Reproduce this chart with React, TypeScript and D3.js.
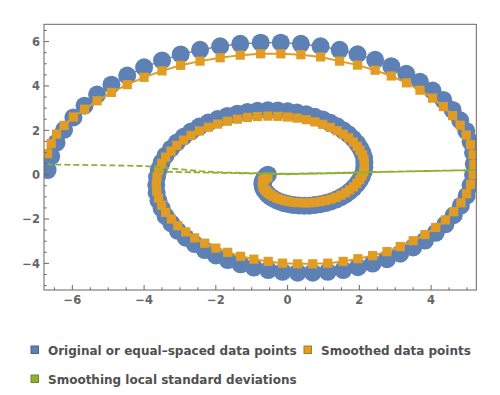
import * as d3 from 'd3';

// spiral points (x shared by original and smoothed)
const pointX = [
  -0.55, -0.59, -0.63, -0.66, -0.68, -0.7, -0.7, -0.69, -0.67, -0.64,
  -0.59, -0.54, -0.47, -0.39, -0.3, -0.19, -0.08, 0.04, 0.17, 0.31,
  0.46, 0.6, 0.75, 0.91, 1.06, 1.21, 1.35, 1.49, 1.62, 1.73,
  1.84, 1.93, 2.01, 2.07, 2.12, 2.14, 2.14, 2.13, 2.09, 2.02,
  1.94, 1.83, 1.7, 1.55, 1.38, 1.19, 0.98, 0.76, 0.52, 0.26,
  0, -0.27, -0.55, -0.84, -1.12, -1.4, -1.68, -1.95, -2.21, -2.46,
  -2.69, -2.9, -3.09, -3.25, -3.4, -3.51, -3.59, -3.64, -3.66, -3.65,
  -3.6, -3.51, -3.4, -3.24, -3.06, -2.84, -2.59, -2.31, -2.0, -1.67,
  -1.31, -0.94, -0.54, -0.14, 0.28, 0.7, 1.12, 1.55, 1.96, 2.37,
  2.77, 3.14, 3.5, 3.83, 4.13, 4.4, 4.63, 4.83, 4.99, 5.1,
  5.17, 5.19, 5.17, 5.1, 4.98, 4.81, 4.6, 4.34, 4.04, 3.69,
  3.31, 2.89, 2.44, 1.95, 1.45, 0.92, 0.37, -0.19, -0.75, -1.32,
  -1.88, -2.44, -2.98, -3.5, -4.0, -4.47, -4.91, -5.31, -5.66, -5.97,
  -6.23, -6.44, -6.59, -6.69,
];

const originalY = [
  0, -0.06, -0.12, -0.19, -0.27, -0.35, -0.44, -0.54, -0.63, -0.72,
  -0.82, -0.91, -1.0, -1.08, -1.16, -1.23, -1.29, -1.33, -1.37, -1.39,
  -1.4, -1.4, -1.37, -1.33, -1.28, -1.21, -1.12, -1.01, -0.89, -0.75,
  -0.6, -0.43, -0.25, -0.07, 0.13, 0.34, 0.55, 0.77, 0.98, 1.2,
  1.41, 1.62, 1.82, 2.0, 2.18, 2.34, 2.49, 2.61, 2.72, 2.8,
  2.86, 2.89, 2.9, 2.88, 2.83, 2.75, 2.65, 2.51, 2.35, 2.17,
  1.95, 1.71, 1.45, 1.17, 0.87, 0.56, 0.23, -0.11, -0.46, -0.81,
  -1.17, -1.52, -1.87, -2.2, -2.53, -2.84, -3.13, -3.4, -3.64, -3.85,
  -4.04, -4.19, -4.3, -4.38, -4.42, -4.42, -4.38, -4.3, -4.17, -4.01,
  -3.81, -3.56, -3.28, -2.97, -2.62, -2.24, -1.83, -1.4, -0.95, -0.48,
  0, 0.49, 0.99, 1.48, 1.97, 2.45, 2.92, 3.37, 3.79, 4.19,
  4.55, 4.89, 5.18, 5.43, 5.63, 5.79, 5.9, 5.95, 5.95, 5.9,
  5.79, 5.63, 5.42, 5.15, 4.84, 4.47, 4.06, 3.61, 3.11, 2.58,
  2.02, 1.44, 0.83, 0.21,
];

const smoothedY = [
  -0.12, -0.14, -0.17, -0.21, -0.25, -0.32, -0.4, -0.49, -0.57, -0.66,
  -0.75, -0.83, -0.91, -0.98, -1.06, -1.12, -1.17, -1.21, -1.25, -1.26,
  -1.27, -1.27, -1.25, -1.21, -1.16, -1.1, -1.02, -0.92, -0.81, -0.68,
  -0.55, -0.39, -0.23, -0.06, 0.12, 0.31, 0.5, 0.7, 0.89, 1.09,
  1.28, 1.47, 1.66, 1.82, 1.98, 2.13, 2.27, 2.38, 2.48, 2.55,
  2.6, 2.63, 2.64, 2.62, 2.58, 2.5, 2.41, 2.28, 2.14, 1.97,
  1.77, 1.56, 1.32, 1.06, 0.79, 0.51, 0.21, -0.1, -0.42, -0.74,
  -1.06, -1.38, -1.7, -2.0, -2.3, -2.58, -2.85, -3.09, -3.31, -3.5,
  -3.68, -3.81, -3.91, -3.99, -4.02, -4.02, -3.99, -3.91, -3.79, -3.65,
  -3.47, -3.24, -2.98, -2.7, -2.38, -2.04, -1.67, -1.27, -0.86, -0.44,
  0, 0.45, 0.9, 1.35, 1.79, 2.23, 2.66, 3.07, 3.45, 3.81,
  4.14, 4.45, 4.71, 4.94, 5.12, 5.31, 5.41, 5.45, 5.45, 5.39,
  5.27, 5.12, 4.93, 4.68, 4.39, 4.06, 3.71, 3.33, 2.95, 2.6,
  2.22, 1.83, 1.4, 0.95,
];

// local standard deviations plotted against x (turning points of the zigzag)
const sdX = [-0.55, 0, 2.14, 0, -3.66, 0, 5.19, 0, -1.88, -2.44, -2.98, -3.5, -4.0, -4.91, -6.69];
const sdY = [0.04, 0.02, 0.09, 0.02, 0.14, 0.03, 0.21, 0.04, 0.1, 0.16, 0.24, 0.32, 0.39, 0.42, 0.46];

const xTicks = [-6, -4, -2, 0, 2, 4];
const yTicks = [-4, -2, 0, 2, 4, 6];

const BLUE = '#5e81b5';
const ORANGE = '#e19c24';
const GREEN = '#8fb032';

const legendItems = [
  { label: 'Original or equal\u2013spaced data points', color: BLUE, x: 31, y: 346 },
  { label: 'Smoothed data points', color: ORANGE, x: 304, y: 346 },
  { label: 'Smoothing local standard deviations', color: GREEN, x: 31, y: 375 },
];

const fmt = (v: number) => (v < 0 ? `\u2212${-v}` : `${v}`);

export default function App() {
  const x = d3.scaleLinear().domain([-6.79, 5.26]).range([44, 476.3]);
  const y = d3.scaleLinear().domain([-5.2, 6.78]).range([290, 24.3]);
  const [x0, x1] = x.range();
  const [y0, y1] = y.range();

  const orig = pointX.map((v, i) => [v, originalY[i]] as [number, number]);
  const smooth = pointX.map((v, i) => [v, smoothedY[i]] as [number, number]);
  const sd = sdX.map((v, i) => [v, sdY[i]] as [number, number]);

  const line = d3
    .line<[number, number]>()
    .x((d) => x(d[0]))
    .y((d) => y(d[1]));

  const xMinor = d3.range(-6.5, 5.01, 0.5).filter((t) => !xTicks.includes(t));
  const yMinor = d3.range(-5, 6.51, 0.5).filter((t) => !yTicks.includes(t));

  return (
    <svg
      width={500}
      height={395}
      style={{ position: 'absolute', left: 0, top: 0, background: '#fff' }}
      fontFamily="DejaVu Sans"
    >
      <defs>
        <clipPath id="plot">
          <rect x={x0} y={y1} width={x1 - x0} height={y0 - y1} />
        </clipPath>
      </defs>

      <g clipPath="url(#plot)">
        <path d={line(orig) ?? ''} fill="none" stroke={BLUE} strokeWidth={1.3} />
        {orig.map((d, i) => (
          <circle key={i} cx={x(d[0])} cy={y(d[1])} r={9} fill={BLUE} />
        ))}
        <path d={line(smooth) ?? ''} fill="none" stroke={ORANGE} strokeWidth={2} />
        {smooth.map((d, i) => (
          <rect key={i} x={x(d[0]) - 4.6} y={y(d[1]) - 4.6} width={9.2} height={9.2} fill={ORANGE} />
        ))}
        <path
          d={line(sd) ?? ''}
          fill="none"
          stroke={GREEN}
          strokeWidth={1.8}
          strokeDasharray="6,3"
        />
      </g>

      {/* frame */}
      <rect x={x0} y={y1} width={x1 - x0} height={y0 - y1} fill="none" stroke="#666" strokeWidth={1} />

      {xTicks.map((t) => (
        <g key={`xt${t}`}>
          <line x1={x(t)} x2={x(t)} y1={y0} y2={y0 - 5} stroke="#666" />
          <text
            x={x(t)}
            y={303.5}
            textAnchor="middle"
            fontSize={11.5}
            fontWeight="bold"
            fill="#666"
          >
            {fmt(t)}
          </text>
        </g>
      ))}
      {xMinor.map((t) => (
        <line key={`xm${t}`} x1={x(t)} x2={x(t)} y1={y0} y2={y0 - 2.7} stroke="#666" />
      ))}

      {yTicks.map((t) => (
        <g key={`yt${t}`}>
          <line x1={x0} x2={x0 + 5} y1={y(t)} y2={y(t)} stroke="#666" />
          <text
            x={40}
            y={y(t) + 4.2}
            textAnchor="end"
            fontSize={11.5}
            fontWeight="bold"
            fill="#666"
          >
            {fmt(t)}
          </text>
        </g>
      ))}
      {yMinor.map((t) => (
        <line key={`ym${t}`} x1={x0} x2={x0 + 2.7} y1={y(t)} y2={y(t)} stroke="#666" />
      ))}

      {legendItems.map((it) => (
        <g key={it.label}>
          <rect
            x={it.x}
            y={it.y}
            width={7.5}
            height={7.5}
            fill={it.color}
            stroke={d3.color(it.color)?.darker(0.7).toString()}
            strokeWidth={1}
          />
          <text x={it.x + 17} y={it.y + 9} fontSize={12} fontWeight="bold" fill="#505050">
            {it.label}
          </text>
        </g>
      ))}
    </svg>
  );
}
